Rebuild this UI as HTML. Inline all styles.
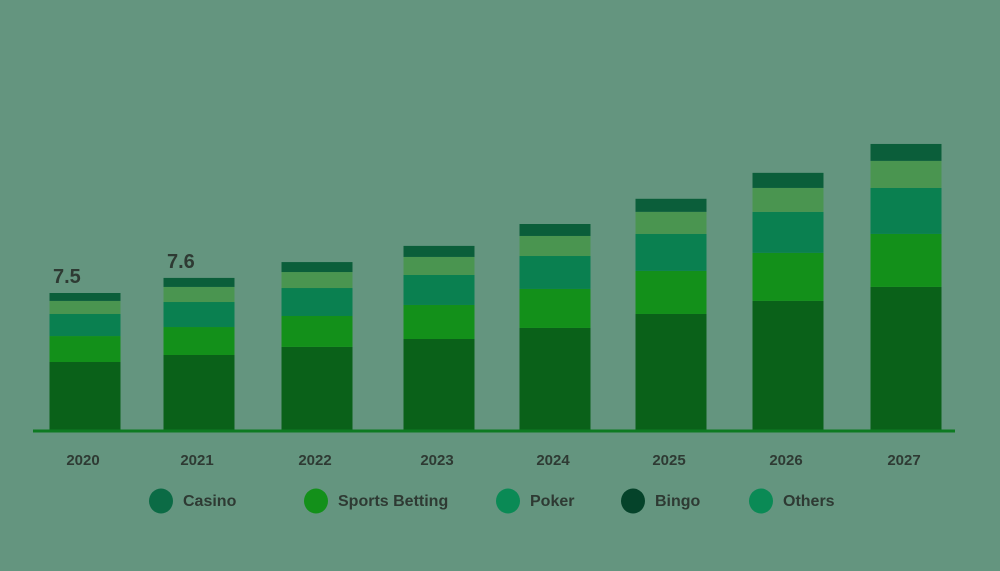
<!DOCTYPE html>
<html><head><meta charset="utf-8"><style>
html,body{margin:0;padding:0;background:#64957f;}
svg{display:block;font-family:"Liberation Sans",sans-serif;}
</style></head><body>
<svg id="chart" width="1000" height="571" viewBox="0 0 1000 571">
<rect width="1000" height="571" fill="#64957f"/>
<g id="bars"></g>
<line x1="33" y1="431" x2="955" y2="431" stroke="#0e7a22" stroke-width="3"/>
<g id="xlabels"></g>
<g id="vlabels"></g>
<g id="legend"></g>
</svg>
<script>
const years = ["2020","2021","2022","2023","2024","2025","2026","2027"];
const casino = [3.75,4.13,4.57,5.00,5.60,6.36,7.07,7.83];
const sports = [1.41,1.52,1.68,1.85,2.12,2.34,2.61,2.88];
const poker  = [1.20,1.36,1.52,1.63,1.79,2.01,2.23,2.50];
const others = [0.71,0.82,0.87,0.98,1.09,1.20,1.30,1.47];
const bingo  = [0.43,0.49,0.54,0.60,0.65,0.71,0.82,0.92];
const valueLabels = ["7.5","7.6","","","","","",""];
const legendNames = ["Casino","Sports Betting","Poker","Bingo","Others"];

const NS="http://www.w3.org/2000/svg";
const baseY=431, pxPerUnit=18.4;
const centers=[85,199,317,439,555,671,788,906];
const barW=71;
function x(i){return centers[i];}
function y(v){return baseY - v*pxPerUnit;}
const series=[
 {vals:casino,color:"#0a6119",name:"casino"},
 {vals:sports,color:"#13901a",name:"sports-betting"},
 {vals:poker,color:"#0a8050",name:"poker"},
 {vals:others,color:"#4a9550",name:"others"},
 {vals:bingo,color:"#0b5e3a",name:"bingo"}
];
const gb=document.getElementById("bars");
years.forEach((yr,i)=>{
  let cum=0;
  series.forEach(s=>{
    const v=s.vals[i];
    const r=document.createElementNS(NS,"rect");
    r.setAttribute("x",x(i)-barW/2);
    r.setAttribute("y",y(cum+v));
    r.setAttribute("width",barW);
    r.setAttribute("height",v*pxPerUnit);
    r.setAttribute("fill",s.color);
    
    
    gb.appendChild(r);
    cum+=v;
  });
  const t=document.createElementNS(NS,"text");
  t.setAttribute("x",x(i)-2);t.setAttribute("y",465);
  t.setAttribute("text-anchor","middle");t.setAttribute("font-size","15");
  t.setAttribute("font-weight","bold");t.setAttribute("fill","#2e3a33");
  t.textContent=yr;
  
  
  document.getElementById("xlabels").appendChild(t);
  if(valueLabels[i]){
    const vl=document.createElementNS(NS,"text");
    vl.setAttribute("x",x(i)-32);vl.setAttribute("y",y(cum)-10);
    vl.setAttribute("font-size","20");vl.setAttribute("font-weight","bold");
    vl.setAttribute("fill","#2e3a33");
    vl.textContent=valueLabels[i];
    
    
    document.getElementById("vlabels").appendChild(vl);
  }
});
const lg=document.getElementById("legend");
const legColors=["#0b6b45","#13901a","#0a8a55","#05432a","#0a8a55"];
const legX=[161,316,508,633,761];
legendNames.forEach((n,i)=>{
  const g=document.createElementNS(NS,"g");
  
  
  const c=document.createElementNS(NS,"ellipse");
  c.setAttribute("cx",legX[i]);c.setAttribute("cy",501);
  c.setAttribute("rx",12);c.setAttribute("ry",12.5);c.setAttribute("fill",legColors[i]);
  
  
  const t=document.createElementNS(NS,"text");
  t.setAttribute("x",legX[i]+22);t.setAttribute("y",506);
  t.setAttribute("font-size","16");t.setAttribute("font-weight","bold");t.setAttribute("fill","#2e3a33");
  t.textContent=n;
  
  
  g.appendChild(c);g.appendChild(t);lg.appendChild(g);
});
</script>
</body></html>
